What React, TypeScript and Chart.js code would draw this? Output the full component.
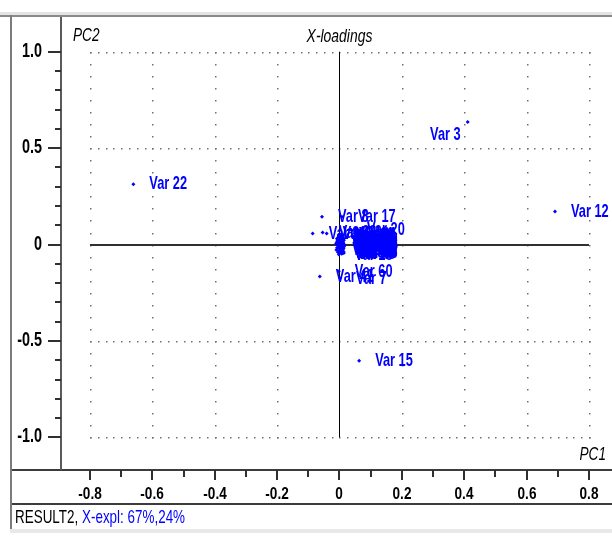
import React, { useEffect, useRef } from "react";
import { Chart, registerables } from "chart.js";

Chart.register(...registerables);

// ---- data ----
const varNames = [
  "Var 1", "Var 2", "Var 3", "Var 4", "Var 5", "Var 6", "Var 7", "Var 8", "Var 9", "Var 10",
  "Var 11", "Var 12", "Var 13", "Var 14", "Var 15", "Var 16", "Var 17", "Var 18", "Var 19", "Var 20",
  "Var 21", "Var 22", "Var 23", "Var 24", "Var 25", "Var 26", "Var 27", "Var 28", "Var 29", "Var 30",
  "Var 31", "Var 32", "Var 33", "Var 34", "Var 35", "Var 36", "Var 37", "Var 38", "Var 39", "Var 40",
  "Var 41", "Var 42", "Var 43", "Var 44", "Var 45", "Var 46", "Var 47", "Var 48", "Var 49", "Var 50",
  "Var 51", "Var 52", "Var 53", "Var 54", "Var 55", "Var 56", "Var 57", "Var 58", "Var 59", "Var 60",
];
const pc1 = [
  -0.008, 0.004, 0.411, 0.010, -0.004, 0.012, 0.002, -0.056, 0.002, -0.010,
  0.014, 0.691, 0.006, -0.006, 0.063, 0.009, 0.008, -0.002, 0.013, 0.037,
  -0.086, -0.661, -0.054, -0.041, 0.001, 0.008, -0.009, 0.015, 0.003, -0.005,
  0.011, 0.007, -0.011, 0.005, 0.013, -0.003, 0.009, 0.000, 0.014, -0.007,
  -0.063, 0.006, 0.011, -0.001, 0.004, 0.012, -0.008, 0.007, 0.002, 0.015,
  -0.004, 0.010, 0.003, -0.006, 0.008, 0.014, 0.001, -0.002, 0.006, -0.002,
];
const pc2 = [
  0.031, -0.012, 0.636, -0.045, 0.018, 0.006, -0.175, 0.144, 0.044, -0.028,
  0.022, 0.172, -0.034, -0.004, -0.603, 0.038, 0.144, -0.052, -0.020, 0.077,
  0.057, 0.313, 0.063, 0.057, 0.010, -0.006, 0.012, 0.000, 0.027, -0.040,
  0.049, 0.015, 0.004, -0.024, -0.037, 0.036, -0.015, -0.031, 0.030, 0.024,
  -0.165, 0.002, -0.028, 0.052, 0.034, 0.012, -0.016, -0.048, -0.002, -0.010,
  0.006, 0.027, -0.040, -0.022, 0.041, -0.044, 0.020, -0.010, -0.018, -0.139,
];
const leftPlacedLabels = ["Var 3"];
const plotTitle = "X-loadings";
const xAxisName = "PC1";
const yAxisName = "PC2";
const statusPrefix = "RESULT2, ";
const statusExpl = "X-expl: 67%,24%";
const xRange = [-0.893, 0.861];
const yRange = [-1.169, 1.18];
const xStep = 0.2;
const yStep = 0.5;

const FONT = '"Liberation Sans", Arial, sans-serif';
const BLUE = "rgb(0,0,255)";

function drawText(
  ctx: CanvasRenderingContext2D,
  text: string,
  x: number,
  y: number,
  font: string,
  color: string,
  align: CanvasTextAlign,
  sx: number,
  sy: number
) {
  ctx.save();
  ctx.font = font;
  ctx.fillStyle = color;
  ctx.textAlign = align;
  ctx.textBaseline = "middle";
  ctx.translate(x, y);
  ctx.scale(sx, sy);
  ctx.fillText(text, 0, 0);
  ctx.restore();
}

const fmt = (v: number) => {
  const r = Math.round(v * 10) / 10;
  return r === 0 ? "0" : r.toFixed(1);
};

const framePlugin = {
  id: "frame",
  beforeDraw(chart: any) {
    const { ctx, width, height, chartArea: ca } = chart;
    ctx.save();
    ctx.fillStyle = "#ffffff";
    ctx.fillRect(0, 0, width, height);
    ctx.fillStyle = "#e4e4e4";
    ctx.fillRect(0, 12, width, 3);
    ctx.fillStyle = "#8a8a8a";
    ctx.fillRect(0, 15, width, 2);
    ctx.fillStyle = "#7c7c7c";
    ctx.fillRect(10, 15, 2, 516);
    ctx.fillStyle = "#e8e8e8";
    ctx.fillRect(10, 529, width, 4);
    ctx.fillStyle = "#3c3c3c";
    ctx.fillRect(12, ca.bottom - 1, width, 2);
    ctx.fillRect(12, 503, width, 2);
    ctx.fillStyle = "#5a5a5a";
    ctx.fillRect(ca.left - 1, ca.top, 2, ca.bottom - ca.top);
    ctx.restore();
  },
  beforeDatasetsDraw(chart: any) {
    const { ctx, chartArea: ca } = chart;
    const xs = chart.scales.x;
    const ys = chart.scales.y;
    const xt: number[] = xs.ticks.map((t: any) => t.value);
    const yt: number[] = ys.ticks.map((t: any) => t.value);
    const xMin = Math.min(...xt), xMax = Math.max(...xt);
    const yMin = Math.min(...yt), yMax = Math.max(...yt);
    ctx.save();
    ctx.fillStyle = "#707070";
    for (const v of xt) {
      if (Math.abs(v) < 1e-9) continue;
      const px = Math.round(xs.getPixelForValue(v));
      const n = Math.round((yMax - yMin) / 0.0625);
      for (let i = 0; i <= n; i++) {
        const py = Math.round(ys.getPixelForValue(yMin + i * 0.0625));
        ctx.fillRect(px, py, 1.5, 1.5);
      }
    }
    for (const v of yt) {
      if (Math.abs(v) < 1e-9) continue;
      const py = Math.round(ys.getPixelForValue(v));
      const n = Math.round((xMax - xMin) / 0.025);
      for (let i = 0; i <= n; i++) {
        const px = Math.round(xs.getPixelForValue(xMin + i * 0.025));
        ctx.fillRect(px, py, 1.5, 1.5);
      }
    }
    ctx.fillStyle = "#303030";
    const y0 = Math.round(ys.getPixelForValue(0));
    ctx.fillRect(xs.getPixelForValue(xMin), y0 - 1, xs.getPixelForValue(xMax) - xs.getPixelForValue(xMin), 2);
    ctx.fillStyle = "#000000";
    const x0 = Math.round(xs.getPixelForValue(0));
    ctx.fillRect(x0, ys.getPixelForValue(yMax), 1, ys.getPixelForValue(yMin) - ys.getPixelForValue(yMax));

    // x tick marks + labels
    ctx.fillStyle = "#303030";
    for (let i = 0; i < xt.length; i++) {
      const px = Math.round(xs.getPixelForValue(xt[i]));
      ctx.fillRect(px - 1, ca.bottom, 2, 10);
      if (i < xt.length - 1) {
        const pm = Math.round(xs.getPixelForValue((xt[i] + xt[i + 1]) / 2));
        ctx.fillRect(pm - 1, ca.bottom, 2, 7);
      }
      drawText(ctx, fmt(xt[i]), px, ca.bottom + 24, `bold 17px ${FONT}`, "#000", "center", 0.8, 1.0);
    }
    // y tick marks + labels
    for (let i = 0; i < yt.length; i++) {
      const py = Math.round(ys.getPixelForValue(yt[i]));
      ctx.fillStyle = "#303030";
      ctx.fillRect(ca.left - 13, py - 1, 13, 2);
      drawText(ctx, fmt(yt[i]), ca.left - 19, py, `bold 18px ${FONT}`, "#000", "right", 0.8, 1.1);
    }
    ctx.fillStyle = "#303030";
    const nMinor = Math.round((yMax - yMin) / 0.1);
    for (let i = 0; i <= nMinor; i++) {
      const v = yMin + i * 0.1;
      if (yt.some((t) => Math.abs(t - v) < 1e-6)) continue;
      const py = Math.round(ys.getPixelForValue(v));
      ctx.fillRect(ca.left - 6, py - 1, 6, 2);
    }
    ctx.restore();
  },
  afterDatasetsDraw(chart: any) {
    const { ctx, chartArea: ca } = chart;
    const meta = chart.getDatasetMeta(0);
    const lf = `bold 16px ${FONT}`;
    meta.data.forEach((el: any, i: number) => {
      const name = varNames[i];
      if (leftPlacedLabels.includes(name)) {
        drawText(ctx, name, el.x - 7, el.y + 13, lf, BLUE, "right", 0.8, 1.2);
      } else {
        drawText(ctx, name, el.x + 16, el.y, lf, BLUE, "left", 0.8, 1.2);
      }
    });
    const xs = chart.scales.x;
    const tf = `italic 16px ${FONT}`;
    drawText(ctx, yAxisName, ca.left + 12, 36, tf, "#000", "left", 0.85, 1.15);
    drawText(ctx, plotTitle, xs.getPixelForValue(0), 37, tf, "#000", "center", 0.87, 1.1);
    drawText(ctx, xAxisName, 606, 455, tf, "#000", "right", 0.85, 1.15);
    const sf = `16px ${FONT}`;
    ctx.save();
    ctx.font = sf;
    const w = ctx.measureText(statusPrefix).width * 0.84;
    ctx.restore();
    drawText(ctx, statusPrefix, 15, 518, sf, "#000", "left", 0.84, 1.12);
    drawText(ctx, statusExpl, 15 + w, 518, sf, BLUE, "left", 0.84, 1.12);
  },
};

export default function App() {
  const ref = useRef<HTMLCanvasElement | null>(null);
  useEffect(() => {
    if (!ref.current) return;
    const points = pc1.map((x, i) => ({ x, y: pc2[i] }));
    const chart = new Chart(ref.current, {
      type: "scatter",
      data: {
        datasets: [
          {
            data: points,
            pointStyle: "rectRot",
            pointRadius: 2,
            backgroundColor: BLUE,
            borderColor: BLUE,
            borderWidth: 0,
          },
        ],
      },
      options: {
        animation: false,
        responsive: false,
        devicePixelRatio: 1,
        events: [],
        layout: { padding: { left: 11, top: 17, right: 0, bottom: 32 } },
        plugins: { legend: { display: false }, tooltip: { enabled: false } },
        scales: {
          x: {
            type: "linear",
            min: xRange[0],
            max: xRange[1],
            grid: { display: false, drawTicks: false },
            border: { display: false },
            ticks: { display: false, stepSize: xStep, includeBounds: false, autoSkip: false },
            afterFit: (s: any) => {
              s.height = 34;
            },
          },
          y: {
            type: "linear",
            min: yRange[0],
            max: yRange[1],
            grid: { display: false, drawTicks: false },
            border: { display: false },
            ticks: { display: false, stepSize: yStep, includeBounds: false, autoSkip: false },
            afterFit: (s: any) => {
              s.width = 50;
            },
          },
        },
      },
      plugins: [framePlugin],
    } as any);
    return () => chart.destroy();
  }, []);
  return (
    <div style={{ position: "absolute", left: 0, top: 0, width: 612, height: 536 }}>
      <canvas ref={ref} width={612} height={536} style={{ display: "block" }} />
    </div>
  );
}
